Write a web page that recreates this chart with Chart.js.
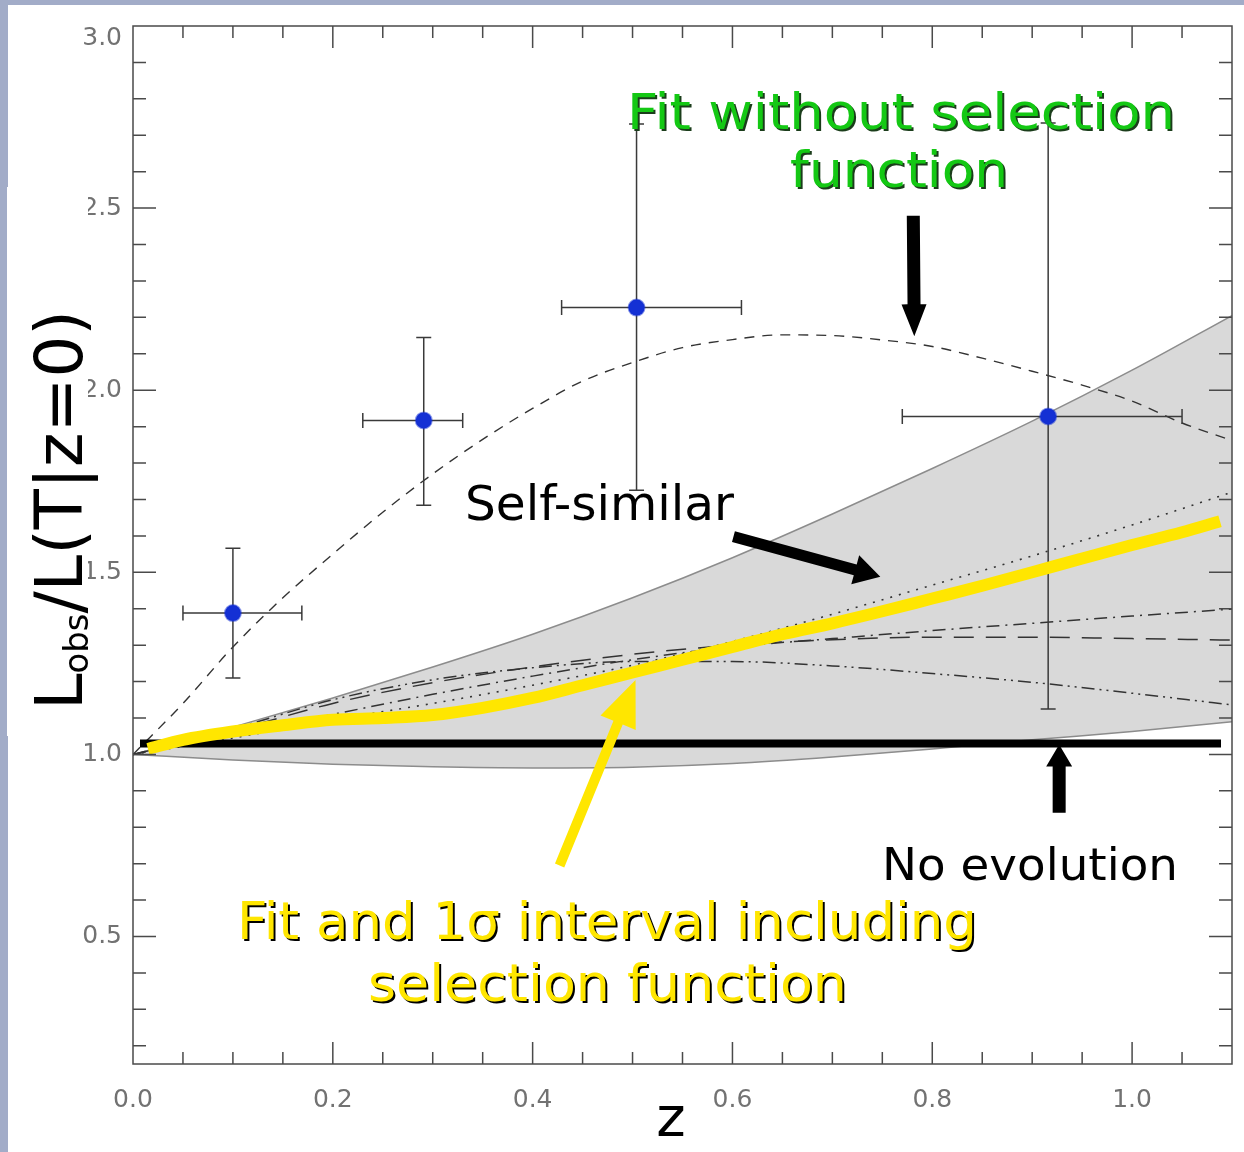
<!DOCTYPE html>
<html>
<head>
<meta charset="utf-8">
<title>Lobs / L(T|z=0) versus z</title>
<script src="https://cdn.jsdelivr.net/npm/chart.js@4.4.1/dist/chart.umd.min.js"></script>
<style>
  html, body { margin: 0; padding: 0; background: #a2acc8; }
  canvas { display: block; }
</style>
</head>
<body>
<canvas id="lumChart" width="1244" height="1152"></canvas>
<script>
// redshift grid of the model curves
const zBand = [0.0, 0.1, 0.2, 0.3, 0.4, 0.5, 0.6, 0.7, 0.8, 0.9, 1.0, 1.1];
// 1 sigma interval including selection function
const bandUpper = [1.0, 1.075, 1.155, 1.24, 1.33, 1.43, 1.54, 1.66, 1.785, 1.915, 2.055, 2.205];
const bandLower = [1.0, 0.985, 0.973, 0.966, 0.963, 0.965, 0.975, 0.993, 1.015, 1.04, 1.063, 1.09];
// model tracks inside the band
const selfSimilar = [1.0, 1.045, 1.095, 1.14, 1.19, 1.245, 1.31, 1.385, 1.465, 1.545, 1.63, 1.72];
const dashDotTrack = [1.0, 1.055, 1.11, 1.165, 1.215, 1.26, 1.295, 1.318, 1.34, 1.36, 1.38, 1.399];
const longDashTrack = [1.0, 1.065, 1.14, 1.197, 1.24, 1.275, 1.30, 1.315, 1.322, 1.322, 1.318, 1.314];
const dashDotDotTrack = [1.0, 1.07, 1.15, 1.205, 1.238, 1.255, 1.255, 1.243, 1.222, 1.198, 1.168, 1.136];

// fit without selection function
const zFit = [0.0, 0.05, 0.1, 0.15, 0.2, 0.25, 0.3, 0.35, 0.4, 0.45, 0.5, 0.55,
              0.6, 0.65, 0.7, 0.75, 0.8, 0.85, 0.9, 0.95, 1.0, 1.05, 1.1];
const fitNoSel = [1.0, 1.14, 1.295, 1.43, 1.55, 1.665, 1.77, 1.865, 1.95, 2.025, 2.076, 2.117,
                  2.139, 2.152, 2.150, 2.138, 2.12, 2.088, 2.052, 2.014, 1.97, 1.91, 1.862];

// fit including selection function
const zSelFit = [0.015, 0.05, 0.1, 0.15, 0.2, 0.25, 0.3, 0.35, 0.4, 0.45, 0.5, 0.55,
                 0.6, 0.65, 0.7, 0.75, 0.8, 0.85, 0.9, 0.95, 1.0, 1.05, 1.088];
const fitSel = [1.015, 1.04, 1.063, 1.08, 1.095, 1.10, 1.108, 1.128, 1.155, 1.19, 1.225, 1.26,
                1.295, 1.33, 1.36, 1.393, 1.428, 1.463, 1.50, 1.538, 1.575, 1.61, 1.64];

// no evolution reference
const zFlat = [0.007, 1.089];
const flat = [1.03, 1.03];

// binned measurements with errors
const zObs = [0.10, 0.291, 0.504, 0.916];
const zObsLo = [0.05, 0.23, 0.429, 0.77];
const zObsHi = [0.169, 0.33, 0.609, 1.05];
const lumObs = [1.388, 1.917, 2.227, 1.928];
const lumObsLo = [1.21, 1.684, 1.725, 1.125];
const lumObsHi = [1.566, 2.145, 2.731, 2.734];

// axes
const xTickValues = [0.0, 0.2, 0.4, 0.6, 0.8, 1.0];
const xTickLabels = ['0.0', '0.2', '0.4', '0.6', '0.8', '1.0'];
const yTickValues = [0.5, 1.0, 1.5, 2.0, 2.5, 3.0];
const yTickLabels = ['0.5', '1.0', '1.5', '2.0', '2.5', '3.0'];

const POINTS_INDEX = 7;
const TICK_FONT = { family: 'DejaVu Sans', size: 25 };
const TICK_COLOR = '#727272';

const pairs = (xs, ys) => xs.map((x, i) => ({ x: x, y: ys[i] }));

// annotation arrows and labels, placed in data units
const arrows = [
  { from: [0.781, 2.479], to: [0.782, 2.148], shaft: 13, head: 32, headW: 25, color: '#000' },
  { from: [0.601, 1.598], to: [0.748, 1.488], shaft: 11, head: 26, headW: 30, color: '#000' },
  { from: [0.427, 0.695], to: [0.503, 1.204], shaft: 10, head: 46, headW: 38, color: '#ffe600' },
  { from: [0.927, 0.840], to: [0.927, 1.027], shaft: 13, head: 22, headW: 26, color: '#000' }
];
const notes = [
  { text: 'Fit without selection', at: [0.4945, 2.718], width: 548, size: 50, color: '#14c814', shadow: '#1b3d1b' },
  { text: 'function', at: [0.6577, 2.559], width: 218, size: 50, color: '#14c814', shadow: '#1b3d1b' },
  { text: 'Self-similar', at: [0.3323, 1.643], width: 269, size: 48, color: '#000' },
  { text: 'No evolution', at: [0.7497, 0.656], width: 296, size: 44, color: '#000' },
  { text: 'Fit and 1\u03c3 interval including', at: [0.1041, 0.492], width: 740, size: 51, color: '#ffe600', shadow: '#000' },
  { text: 'selection function', at: [0.2352, 0.322], width: 479, size: 51, color: '#ffe600', shadow: '#000' }
];

function drawFitted(ctx, str, x, y, width, size, color, shadow) {
  ctx.save();
  ctx.font = size + 'px "DejaVu Sans"';
  ctx.textBaseline = 'alphabetic';
  ctx.textAlign = 'left';
  const sx = width / ctx.measureText(str).width;
  ctx.translate(x, y);
  ctx.scale(sx, 1);
  if (shadow) {
    ctx.fillStyle = shadow;
    ctx.fillText(str, 2 / sx, 2);
  }
  ctx.fillStyle = color;
  ctx.fillText(str, 0, 0);
  ctx.restore();
}

function drawArrow(ctx, x0, y0, x1, y1, shaft, head, headW, color) {
  const ang = Math.atan2(y1 - y0, x1 - x0);
  const len = Math.hypot(x1 - x0, y1 - y0);
  ctx.save();
  ctx.translate(x0, y0);
  ctx.rotate(ang);
  ctx.fillStyle = color;
  ctx.beginPath();
  ctx.moveTo(0, -shaft / 2);
  ctx.lineTo(len - head, -shaft / 2);
  ctx.lineTo(len - head, -headW / 2);
  ctx.lineTo(len, 0);
  ctx.lineTo(len - head, headW / 2);
  ctx.lineTo(len - head, shaft / 2);
  ctx.lineTo(0, shaft / 2);
  ctx.closePath();
  ctx.fill();
  ctx.restore();
}

const slideBackground = {
  id: 'slideBackground',
  beforeDraw(chart) {
    const ctx = chart.ctx;
    ctx.save();
    ctx.fillStyle = '#a2acc8';
    ctx.fillRect(0, 0, chart.width, chart.height);
    ctx.fillStyle = '#ffffff';
    ctx.fillRect(8, 5, chart.width - 8, chart.height - 5);
    ctx.restore();
  }
};

const errorBars = {
  id: 'errorBars',
  beforeDatasetDraw(chart, args) {
    if (args.index !== POINTS_INDEX) return;
    const { ctx, scales: { x, y } } = chart;
    const cap = 7.5;
    ctx.save();
    ctx.strokeStyle = '#3a3a3a';
    ctx.lineWidth = 1.5;
    zObs.forEach((z, i) => {
      const px = x.getPixelForValue(z);
      const py = y.getPixelForValue(lumObs[i]);
      const xl = x.getPixelForValue(zObsLo[i]);
      const xh = x.getPixelForValue(zObsHi[i]);
      const yl = y.getPixelForValue(lumObsLo[i]);
      const yh = y.getPixelForValue(lumObsHi[i]);
      ctx.beginPath();
      ctx.moveTo(xl, py); ctx.lineTo(xh, py);
      ctx.moveTo(xl, py - cap); ctx.lineTo(xl, py + cap);
      ctx.moveTo(xh, py - cap); ctx.lineTo(xh, py + cap);
      ctx.moveTo(px, yl); ctx.lineTo(px, yh);
      ctx.moveTo(px - cap, yl); ctx.lineTo(px + cap, yl);
      ctx.moveTo(px - cap, yh); ctx.lineTo(px + cap, yh);
      ctx.stroke();
    });
    ctx.restore();
  }
};

const frameTicks = {
  id: 'frameTicks',
  afterDatasetsDraw(chart) {
    const { ctx, chartArea: a, scales: { x, y } } = chart;
    ctx.save();
    ctx.strokeStyle = '#4a4a4a';
    ctx.lineWidth = 1.5;
    ctx.strokeRect(a.left, a.top, a.right - a.left, a.bottom - a.top);
    ctx.beginPath();
    // x ticks every 0.05, major every 0.2
    for (let k = 1; k <= 21; k++) {
      const px = x.getPixelForValue(k * 0.05);
      const len = k % 4 === 0 ? 22 : 12;
      ctx.moveTo(px, a.bottom); ctx.lineTo(px, a.bottom - len);
      ctx.moveTo(px, a.top); ctx.lineTo(px, a.top + len);
    }
    // y ticks every 0.1, major every 0.5
    for (let k = 2; k <= 29; k++) {
      const py = y.getPixelForValue(k * 0.1);
      const len = k % 5 === 0 ? 23 : 13;
      ctx.moveTo(a.left, py); ctx.lineTo(a.left + len, py);
      ctx.moveTo(a.right, py); ctx.lineTo(a.right - len, py);
    }
    ctx.stroke();
    ctx.restore();
  },
  afterDraw(chart) {
    const { ctx, chartArea: a, scales: { x, y } } = chart;

    // the top label sits just inside the frame
    ctx.save();
    ctx.font = TICK_FONT.size + 'px "' + TICK_FONT.family + '"';
    ctx.fillStyle = TICK_COLOR;
    ctx.textAlign = 'right';
    ctx.textBaseline = 'middle';
    ctx.fillText(yTickLabels[yTickLabels.length - 1], a.left - 11, y.getPixelForValue(3.0) + 12);
    ctx.restore();

    arrows.forEach(ar => {
      drawArrow(ctx,
        x.getPixelForValue(ar.from[0]), y.getPixelForValue(ar.from[1]),
        x.getPixelForValue(ar.to[0]), y.getPixelForValue(ar.to[1]),
        ar.shaft, ar.head, ar.headW, ar.color);
    });
    notes.forEach(n => {
      drawFitted(ctx, n.text, x.getPixelForValue(n.at[0]), y.getPixelForValue(n.at[1]),
        n.width, n.size, n.color, n.shadow);
    });

    // text box of the axis title sits over the tick labels
    ctx.save();
    ctx.fillStyle = '#ffffff';
    ctx.fillRect(7, 187, 81, 549);

    // y title: L_obs / L(T|z=0), rotated
    const mainFont = '66px "DejaVu Sans"';
    const subFont = '34px "DejaVu Sans"';
    ctx.font = mainFont;
    const wL = ctx.measureText('L').width;
    const wRest = ctx.measureText('/L(T|z=0)').width;
    ctx.font = subFont;
    const wSub = ctx.measureText('obs').width;
    const sx = 400 / (wL + wSub + wRest);
    ctx.translate(82, 710);
    ctx.rotate(-Math.PI / 2);
    ctx.scale(sx, 1);
    ctx.fillStyle = '#000';
    ctx.textBaseline = 'alphabetic';
    ctx.font = mainFont;
    ctx.fillText('L', 0, 0);
    ctx.font = subFont;
    ctx.fillText('obs', wL, 6);
    ctx.font = mainFont;
    ctx.fillText('/L(T|z=0)', wL + wSub, 0);
    ctx.restore();

    // x title
    ctx.save();
    ctx.font = '56px "DejaVu Sans"';
    ctx.fillStyle = '#000';
    ctx.textAlign = 'center';
    ctx.textBaseline = 'alphabetic';
    ctx.fillText('z', 671, 1136);
    ctx.restore();
  }
};

const lineBase = { pointRadius: 0, fill: false, cubicInterpolationMode: 'monotone' };

new Chart(document.getElementById('lumChart'), {
  type: 'line',
  data: {
    datasets: [
      Object.assign({}, lineBase, {
        label: '1 sigma upper', data: pairs(zBand, bandUpper), order: 10,
        borderColor: '#8c8c8c', borderWidth: 1.5, backgroundColor: '#d9d9d9', fill: '+1'
      }),
      Object.assign({}, lineBase, {
        label: '1 sigma lower', data: pairs(zBand, bandLower), order: 9,
        borderColor: '#8c8c8c', borderWidth: 1.5
      }),
      Object.assign({}, lineBase, {
        label: 'self-similar', data: pairs(zBand, selfSimilar), order: 8,
        borderColor: '#333', borderWidth: 1.6, borderDash: [2, 7]
      }),
      Object.assign({}, lineBase, {
        label: 'dash-dot', data: pairs(zBand, dashDotTrack), order: 8,
        borderColor: '#333', borderWidth: 1.5, borderDash: [13, 6, 2, 6]
      }),
      Object.assign({}, lineBase, {
        label: 'long dash', data: pairs(zBand, longDashTrack), order: 8,
        borderColor: '#333', borderWidth: 1.5, borderDash: [20, 12]
      }),
      Object.assign({}, lineBase, {
        label: 'dash-dot-dot', data: pairs(zBand, dashDotDotTrack), order: 8,
        borderColor: '#333', borderWidth: 1.5, borderDash: [13, 5, 2, 5, 2, 5]
      }),
      Object.assign({}, lineBase, {
        label: 'fit without selection', data: pairs(zFit, fitNoSel), order: 7,
        borderColor: '#333', borderWidth: 1.4, borderDash: [10, 8]
      }),
      {
        label: 'data', data: pairs(zObs, lumObs), order: 5, showLine: false,
        pointRadius: 8, pointBackgroundColor: '#1430d4', pointBorderColor: 'rgba(20,48,212,0.5)',
        pointBorderWidth: 2
      },
      Object.assign({}, lineBase, {
        label: 'no evolution', data: pairs(zFlat, flat), order: 3,
        borderColor: '#000', borderWidth: 8, borderCapStyle: 'butt'
      }),
      Object.assign({}, lineBase, {
        label: 'fit with selection', data: pairs(zSelFit, fitSel), order: 2,
        borderColor: '#ffe600', borderWidth: 12, borderCapStyle: 'butt'
      })
    ]
  },
  options: {
    responsive: false,
    animation: false,
    devicePixelRatio: 1,
    layout: { padding: { top: 25, right: 12, left: 0, bottom: 0 } },
    plugins: {
      legend: { display: false },
      tooltip: { enabled: false }
    },
    scales: {
      x: {
        type: 'linear', min: 0, max: 1.1,
        grid: { display: false, drawTicks: false },
        border: { display: false },
        afterBuildTicks(scale) { scale.ticks = xTickValues.map(v => ({ value: v })); },
        afterFit(scale) { scale.height = 88; },
        ticks: {
          padding: 21, color: TICK_COLOR, autoSkip: false, maxRotation: 0,
          font: TICK_FONT,
          callback: (v, i) => xTickLabels[i]
        }
      },
      y: {
        type: 'linear', min: 0.15, max: 3.0,
        grid: { display: false, drawTicks: false },
        border: { display: false },
        afterBuildTicks(scale) { scale.ticks = yTickValues.map(v => ({ value: v })); },
        afterFit(scale) { scale.width = 133; },
        ticks: {
          padding: 11, color: TICK_COLOR, autoSkip: false,
          font: TICK_FONT,
          // the top label is drawn separately, nudged below the frame edge
          callback: (v, i) => (i === yTickLabels.length - 1 ? '' : yTickLabels[i])
        }
      }
    }
  },
  plugins: [slideBackground, errorBars, frameTicks]
});
</script>
</body>
</html>
